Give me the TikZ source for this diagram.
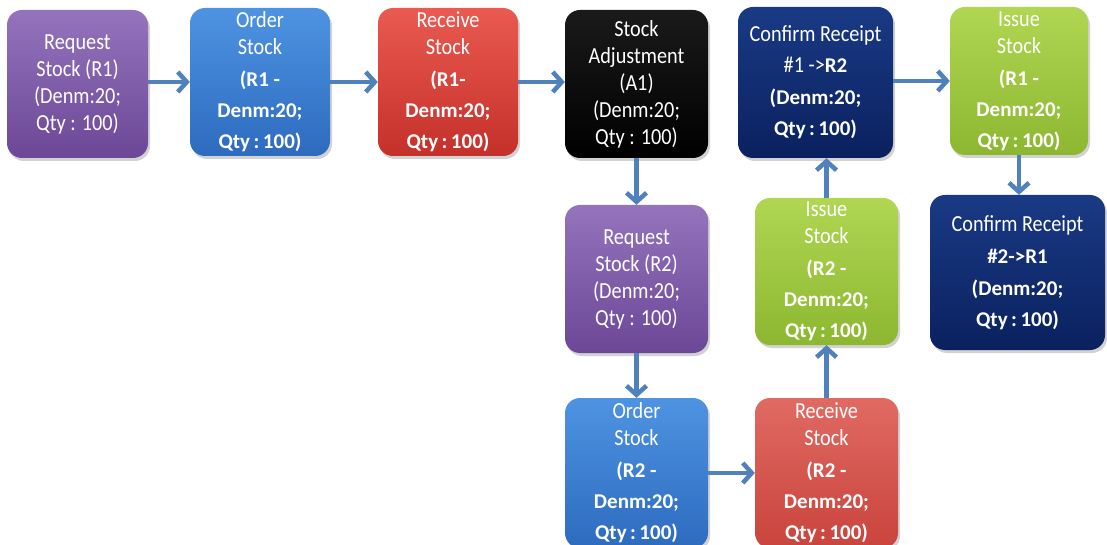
\documentclass[tikz,border=0pt]{standalone}
\usepackage{fontspec}
\setmainfont{Carlito}
\newfontfamily\narrowreg[FakeStretch=0.88]{Carlito}
\newcommand\bl[1]{{\normalfont\bfseries\fontsize{21}{27}\selectfont #1}}
\newcommand\qtyb{\bl{Qty\,:\,100)}}
\usetikzlibrary{arrows.meta,shadows}
\definecolor{purA}{HTML}{9474BC}\definecolor{purB}{HTML}{6C4797}
\definecolor{bluA}{HTML}{4E93E2}\definecolor{bluB}{HTML}{2D6BBE}
\definecolor{redA}{HTML}{EA5A50}\definecolor{redB}{HTML}{C4302A}
\definecolor{redC}{HTML}{E06A62}\definecolor{redD}{HTML}{C9443D}
\definecolor{navA}{HTML}{1A3A85}\definecolor{navB}{HTML}{0A215E}
\definecolor{grnA}{HTML}{B0D652}\definecolor{grnB}{HTML}{8DB731}
\definecolor{blkA}{HTML}{1A1A1A}\definecolor{blkB}{HTML}{000000}
\definecolor{arr}{HTML}{4F81BD}
\tikzset{
  box/.style={rounded corners=15pt, minimum width=141pt, minimum height=148pt,
    inner sep=0pt, align=center, text=white,
    font=\narrowreg\fontsize{23}{27}\selectfont,
    drop shadow={opacity=0.35, shadow xshift=2pt, shadow yshift=-3pt}},
  purbox/.style={box, top color=purA, bottom color=purB},
  blubox/.style={box, top color=bluA, bottom color=bluB},
  redbox/.style={box, top color=redA, bottom color=redB},
  redlbox/.style={box, top color=redC, bottom color=redD},
  blkbox/.style={box, top color=blkA, bottom color=blkB},
  navbox/.style={box, top color=navA, bottom color=navB},
  grnbox/.style={box, top color=grnA, bottom color=grnB},
  flow/.style={draw=arr, line width=4.5pt, -{Straight Barb[length=9pt,width=20pt]}}
}
\begin{document}
\begin{tikzpicture}[x=1pt,y=-1pt]
\useasboundingbox[fill=white] (0,0) rectangle (1107,545);
% row 1
\node[purbox] (reqA) at (77.5,84) {Request\\Stock (R1)\\(Denm:20;\\Qty : 100)};
\node[blubox, minimum width=140pt] (ordA) at (260,82) {Order\\Stock\\[5pt]\bl{(R1 -}\\[4pt]\bl{Denm:20;}\\[4pt]\qtyb};
\node[redbox, minimum width=140pt] (recA) at (448,82) {Receive\\Stock\\[5pt]\bl{(R1-}\\[4pt]\bl{Denm:20;}\\[4pt]\qtyb};
\node[blkbox, minimum width=143pt] (adj) at (636.5,84) {Stock\\Adjustment\\(A1)\\(Denm:20;\\Qty : 100)};
\node[navbox, minimum width=155pt, minimum height=151pt] (confA) at (815.5,82.5) {Confirm Receipt\\[4pt]\#1 ->\bl{R2}\\[5pt]\bl{(Denm:20;}\\[4pt]\qtyb};
\node[grnbox, minimum width=138pt] (issA) at (1019,81) {Issue\\Stock\\[5pt]\bl{(R1 -}\\[4pt]\bl{Denm:20;}\\[4pt]\qtyb};
% row 2
\node[purbox, minimum width=143pt] (reqB) at (636.5,279) {Request\\Stock (R2)\\(Denm:20;\\Qty : 100)};
\node[grnbox, minimum width=143pt, minimum height=147pt] (issB) at (826.5,271.5) {Issue\\Stock\\[5pt]\bl{(R2 -}\\[4pt]\bl{Denm:20;}\\[4pt]\qtyb};
\node[navbox, minimum width=175pt, minimum height=155pt] (confB) at (1017.5,272.5) {Confirm Receipt\\[5pt]\bl{\#2->R1}\\[5pt]\bl{(Denm:20;}\\[4pt]\qtyb};
% row 3
\node[blubox, minimum width=143pt, minimum height=150pt] (ordB) at (636.5,473) {Order\\Stock\\[5pt]\bl{(R2 -}\\[4pt]\bl{Denm:20;}\\[4pt]\qtyb};
\node[redlbox, minimum width=143pt, minimum height=150pt] (recB) at (826.5,473) {Receive\\Stock\\[5pt]\bl{(R2 -}\\[4pt]\bl{Denm:20;}\\[4pt]\qtyb};
% connectors
\draw[flow] (reqA.east |- ordA) -- (ordA.west);
\draw[flow] (ordA.east) -- (recA.west);
\draw[flow] (recA.east) -- (adj.west |- recA);
\draw[flow] (adj.south) -- (reqB.north);
\draw[flow] (reqB.south) -- (ordB.north);
\draw[flow] (ordB.east) -- (recB.west);
\draw[flow] (recB.north) -- (issB.south);
\draw[flow] (issB.north) -- (issB.north |- confA.south);
\draw[flow] (confA.east |- issA) -- (issA.west);
\draw[flow] (issA.south) -- (issA.south |- confB.north);
\end{tikzpicture}
\end{document}
